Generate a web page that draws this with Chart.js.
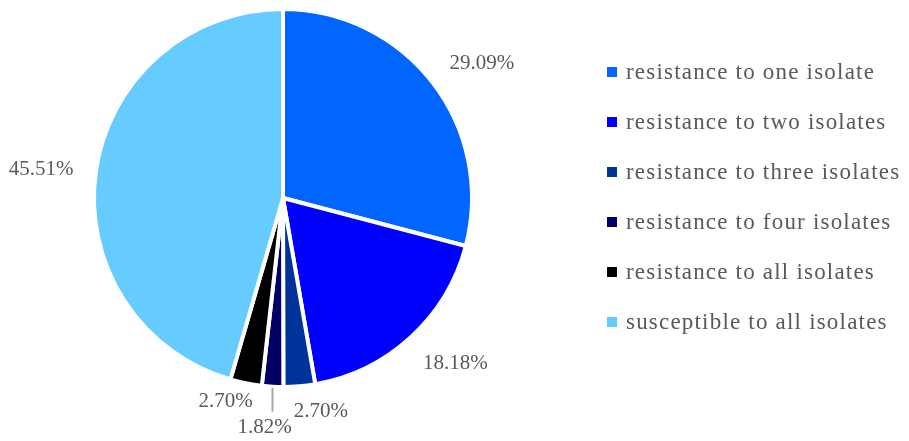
<!DOCTYPE html>
<html>
<head>
<meta charset="utf-8">
<script src="https://cdn.jsdelivr.net/npm/chart.js@4"></script>
<style>
  html, body { margin: 0; padding: 0; background: #fff; }
  #wrap { width: 909px; height: 441px; position: relative; }
</style>
</head>
<body>
<div id="wrap"><canvas id="pieChart"></canvas></div>
<script>
// Chart data
const categories = [
    "resistance to one isolate",
    "resistance to two isolates",
    "resistance to three isolates",
    "resistance to four isolates",
    "resistance to all isolates",
    "susceptible to all isolates"
];
const percentages = [29.09, 18.18, 2.70, 1.82, 2.70, 45.51];
const sliceColors = ["#0066FF", "#0000FF", "#003399", "#000066", "#000000", "#66CCFF"];

// label tweaks for the crowded small slices (pixels, relative to default spot)
const labelNudge = [[3, 3], [5, 0], [17, -11], [-5, 5], [-10, -17], [3, 3]];
const leaderLine = [false, false, false, true, false, false];

const fontFamily = "'Liberation Serif', 'Times New Roman', serif";
const textColor = "#595959";

// Percent labels outside each slice
const sliceLabels = {
    id: 'sliceLabels',
    afterDatasetsDraw(chart) {
        const ctx = chart.ctx;
        const meta = chart.getDatasetMeta(0);
        ctx.save();
        ctx.font = "21px " + fontFamily;
        ctx.fillStyle = textColor;
        ctx.textAlign = 'center';
        ctx.textBaseline = 'middle';
        meta.data.forEach((arc, i) => {
            const p = arc.getProps(['x', 'y', 'startAngle', 'endAngle', 'outerRadius'], true);
            const mid = (p.startAngle + p.endAngle) / 2;
            const cos = Math.cos(mid), sin = Math.sin(mid);
            const text = percentages[i].toFixed(2) + "%";
            const w = ctx.measureText(text).width;
            const R = p.outerRadius + 26;
            const tx = p.x + cos * (R + w / 2) + labelNudge[i][0];
            const ty = p.y + sin * (R + 10) + labelNudge[i][1];
            if (leaderLine[i]) {
                const ex = p.x + cos * (p.outerRadius + 1);
                const ey = p.y + sin * (p.outerRadius + 1);
                ctx.strokeStyle = "#A6A6A6";
                ctx.lineWidth = 2;
                ctx.beginPath();
                ctx.moveTo(ex, ey);
                ctx.lineTo(ex, ty - 16);
                ctx.stroke();
            }
            ctx.fillText(text, tx, ty);
        });
        ctx.restore();
    }
};

// Legend on the right side
const sideLegend = {
    id: 'sideLegend',
    afterDraw(chart) {
        const ctx = chart.ctx;
        ctx.save();
        ctx.font = "23px " + fontFamily;
        ctx.letterSpacing = "1.2px";
        ctx.textBaseline = 'middle';
        ctx.textAlign = 'left';
        categories.forEach((name, i) => {
            const y = 72 + i * 50;
            ctx.fillStyle = sliceColors[i];
            ctx.fillRect(607, y - 5, 10, 10);
            ctx.fillStyle = textColor;
            ctx.fillText(name, 626, y + 1);
        });
        ctx.restore();
    }
};

const ctx = document.getElementById('pieChart').getContext('2d');
const chart = new Chart(ctx, {
    type: 'pie',
    data: {
        labels: categories,
        datasets: [{
            data: percentages,
            backgroundColor: sliceColors,
            borderColor: '#FFFFFF',
            borderWidth: 4
        }]
    },
    options: {
        responsive: true,
        maintainAspectRatio: false,
        animation: false,
        layout: {
            padding: { top: 7, bottom: 52, left: 92, right: 435 }
        },
        plugins: {
            legend: { display: false },
            tooltip: { enabled: false }
        }
    },
    plugins: [sliceLabels, sideLegend]
});
</script>
</body>
</html>
